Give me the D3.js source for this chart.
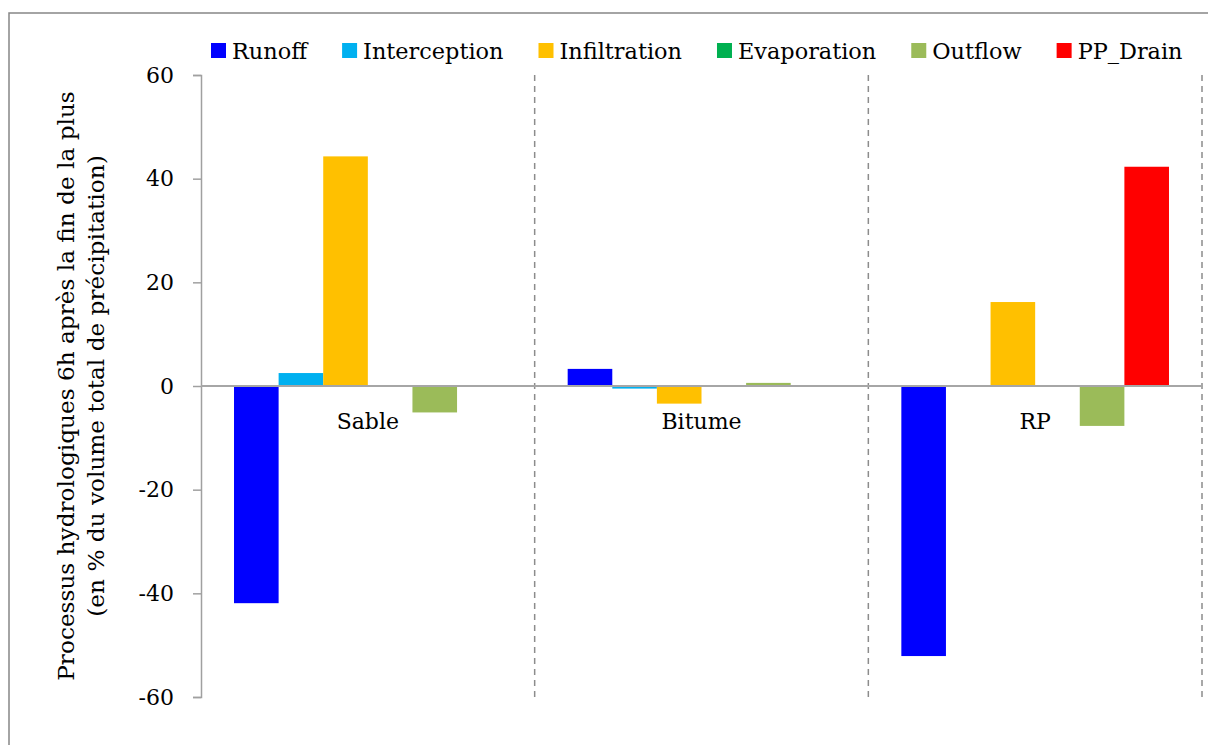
<!DOCTYPE html>
<html>
<head>
<meta charset="utf-8">
<script src="https://cdn.jsdelivr.net/npm/d3@7"></script>
<style>
  html, body { margin: 0; padding: 0; background: #fff; }
  svg { display: block; }
  text { font-family: "DejaVu Serif", "Liberation Serif", serif; fill: #000; }
</style>
</head>
<body>
<svg id="chart" width="1208" height="745"></svg>
<script>
// ---- data ----
const categories = ["Sable", "Bitume", "RP"];
const seriesNames = ["Runoff", "Interception", "Infiltration", "Evaporation", "Outflow", "PP_Drain"];
const seriesColors = ["#0000FF", "#00B0F0", "#FFC000", "#00B050", "#9BBB59", "#FF0000"];
const runoff       = [-41.9, 3.3, -52.1];
const interception = [2.5, -0.5, 0];
const infiltration = [44.3, -3.4, 16.2];
const evaporation  = [0, 0, 0];
const outflow      = [-5.1, 0.6, -7.7];
const ppDrain      = [0, 0, 42.3];
const yTicks = [-60, -40, -20, 0, 20, 40, 60];
const yTickLabels = ["-60", "-40", "-20", "0", "20", "40", "60"];
const yTitleLines = ["Processus hydrologiques 6h après la fin de la plus",
                     "(en % du volume total de précipitation)"];

const seriesValues = [runoff, interception, infiltration, evaporation, outflow, ppDrain];

// ---- layout ----
const svg = d3.select("#chart");
const plot = { left: 201, right: 1202, top: 75, bottom: 697 };

// outer frame
svg.append("rect")
  .attr("x", 9).attr("y", 13).attr("width", 1240).attr("height", 800)
  .attr("fill", "none").attr("stroke", "#868686").attr("stroke-width", 1.5);

const x0 = d3.scaleBand().domain(categories).range([plot.left, plot.right]).paddingInner(0).paddingOuter(0);
const x1 = d3.scaleBand().domain(seriesNames).range([0, x0.bandwidth()]).paddingInner(0).paddingOuter(0.74);
const y = d3.scaleLinear().domain([-60, 60]).range([plot.bottom, plot.top]);

// dashed category separators
svg.append("g").selectAll("line")
  .data(categories)
  .join("line")
  .attr("x1", d => x0(d) + x0.bandwidth()).attr("x2", d => x0(d) + x0.bandwidth())
  .attr("y1", plot.top).attr("y2", plot.bottom)
  .attr("stroke", "#8c8c8c").attr("stroke-width", 1.5)
  .attr("stroke-dasharray", "6,5");

// bars
const groups = svg.append("g").selectAll("g")
  .data(categories)
  .join("g")
  .attr("transform", d => `translate(${x0(d)},0)`);

groups.selectAll("rect")
  .data((c, ci) => seriesNames.map((s, si) => ({ s, si, v: seriesValues[si][ci] })))
  .join("rect")
  .attr("x", d => x1(d.s))
  .attr("width", x1.bandwidth())
  .attr("y", d => y(Math.max(0, d.v)))
  .attr("height", d => Math.abs(y(d.v) - y(0)))
  .attr("fill", d => seriesColors[d.si]);

// y axis
const yAxis = d3.axisLeft(y).tickValues(yTicks).tickSize(8).tickPadding(19)
  .tickFormat((d, i) => yTickLabels[i]);
const gy = svg.append("g").attr("transform", `translate(${plot.left},0)`).call(yAxis);
gy.select(".domain").attr("stroke", "#a0a0a0").attr("stroke-width", 1.5);
gy.selectAll(".tick line").attr("stroke", "#a0a0a0").attr("stroke-width", 1.5);
gy.selectAll(".tick text")
  .style("font-family", "'DejaVu Serif', serif")
  .style("font-size", "22px").attr("fill", "#000");

// zero line
svg.append("line")
  .attr("x1", plot.left).attr("x2", plot.right)
  .attr("y1", y(0)).attr("y2", y(0))
  .attr("stroke", "#a6a6a6").attr("stroke-width", 2);

// category labels
svg.append("g").selectAll("text")
  .data(categories)
  .join("text")
  .attr("x", d => x0(d) + x0.bandwidth() / 2)
  .attr("y", y(0) + 43)
  .attr("text-anchor", "middle")
  .style("font-size", "22px")
  .text(d => d);

// y title
const yTitle = svg.append("text")
  .attr("transform", `translate(74,${(plot.top + plot.bottom) / 2}) rotate(-90)`)
  .attr("text-anchor", "middle")
  .style("font-size", "23.2px");
yTitle.selectAll("tspan")
  .data(yTitleLines)
  .join("tspan")
  .attr("x", 0)
  .attr("dy", (d, i) => i === 0 ? 0 : 30)
  .text(d => d);

// legend
const legend = svg.append("g").attr("transform", "translate(211,0)");
let lx = 0;
seriesNames.forEach((name, i) => {
  const g = legend.append("g").attr("transform", `translate(${lx},0)`);
  g.append("rect").attr("x", 0).attr("y", 43).attr("width", 15).attr("height", 15)
    .attr("fill", seriesColors[i]);
  const t = g.append("text").attr("x", 21).attr("y", 59).style("font-size", "22.4px").text(name);
  lx += 21 + t.node().getComputedTextLength() + 35;
});
</script>
</body>
</html>
